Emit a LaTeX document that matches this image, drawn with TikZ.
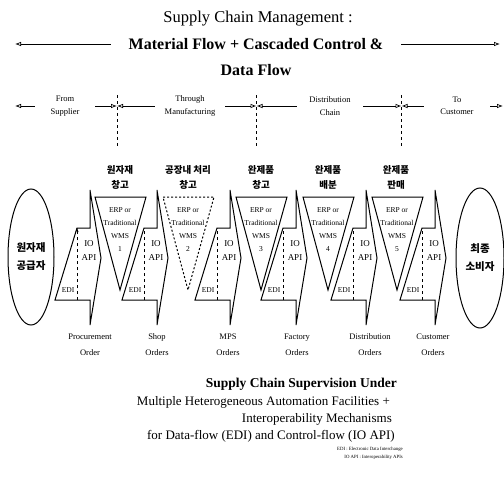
\documentclass[tikz,border=0pt]{standalone}
\usepackage{fontspec}
\setmainfont{Liberation Serif}
\newfontfamily\kr{Noto Sans CJK KR}
\usetikzlibrary{arrows.meta,shapes.geometric}
\tikzset{
  lead/.style={-{Latex[open,length=6pt,width=4.5pt]},line width=.7pt},
  guide/.style={dashed,line width=.6pt},
  shell/.style={line width=1pt,line join=miter},
  edi/.style={dashed,line width=.6pt},
  head/.style={font=\fontsize{16.5}{18}\selectfont,inner sep=0pt},
  headbold/.style={font=\fontsize{16}{18}\bfseries\selectfont,inner ysep=0pt},
  phase/.style={align=center,font=\fontsize{8.5}{12.5}\selectfont,inner sep=0pt},
  io/.style={align=center,font=\fontsize{9}{14}\selectfont,inner sep=0pt},
  tag/.style={font=\fontsize{7.5}{8}\selectfont,inner sep=0pt},
  wmstxt/.style={align=center,font=\fontsize{7.5}{13}\selectfont,inner sep=0pt},
  hangul/.style={align=center,font=\kr\bfseries\fontsize{9.5}{15}\selectfont,inner sep=0pt},
  party/.style={draw,ellipse,line width=1pt,align=center,inner sep=0pt,font=\kr\bfseries\fontsize{10.5}{18}\selectfont},
  order/.style={align=center,font=\fontsize{8.5}{16}\selectfont,inner sep=0pt},
  note/.style={anchor=east,inner sep=0pt,font=\fontsize{13}{15}\selectfont},
  fine/.style={anchor=east,inner sep=0pt,font=\fontsize{4.8}{6}\selectfont},
  chev/.pic={
    \draw[shell] (-13,228) -- (0,228) -- (0,190) -- (11,258) -- (0,325) -- (0,300) -- (-35,300) -- cycle;
    \coordinate (-dtop) at (-13,228);
    \coordinate (-dbot) at (-13,300);
    \draw[edi] (-dbot) -- (-dtop);
    \node[io] (-io) at (-1,251) {IO\\API};
    \node[tag] (-edi) at (-22,290) {EDI};
  },
  wms/.pic={
    \draw[shell,pic actions] (6,197) -- (57,197) -- (31,290) -- cycle;
    \node[wmstxt] (-txt) at (31,230) {ERP or\\Traditional\\WMS\\#1};
  }
}

\begin{document}
\begin{tikzpicture}[x=1pt,y=-1pt]
\useasboundingbox (0,0) rectangle (504,488);

\node[head] (title) at (258,19) {Supply Chain Management :};
\node[headbold,inner xsep=18pt] (mat) at (256,44) {Material Flow + Cascaded Control \&};
\node[headbold] (data) at (256,70) {Data Flow};
\coordinate (gl) at (15,44);
\coordinate (gr) at (500,44);
\draw[lead] (mat.west) -- (gl);
\draw[lead] (mat.east) -- (gr);

\node[phase,minimum width=60] (from) at (65,106) {From\\Supplier};
\node[phase,minimum width=70] (thru) at (190,106) {Through\\Manufacturing};
\node[phase,minimum width=66] (dist) at (330,106) {Distribution\\Chain};
\node[phase,minimum width=66] (to) at (457,106) {To\\Customer};
\coordinate (tl) at (15,106);
\coordinate (m1) at (117,106);
\coordinate (m2) at (256.5,106);
\coordinate (m3) at (401.5,106);
\coordinate (tr) at (503,106);
\draw[lead] (from.west) -- (tl);
\draw[lead] (from.east) -- (m1);
\draw[lead] (thru.west) -- (m1);
\draw[lead] (thru.east) -- (m2);
\draw[lead] (dist.west) -- (m2);
\draw[lead] (dist.east) -- (m3);
\draw[lead] (to.west) -- (m3);
\draw[lead] (to.east) -- (tr);
\draw[guide] (117,95) -- (117,148);
\draw[guide] (256.5,95) -- (256.5,148);
\draw[guide] (401.5,95) -- (401.5,148);

\node[hangul] (k1) at (120,177) {원자재\\창고};
\node[hangul] (k2) at (188,177) {공장내 처리\\창고};
\node[hangul] (k3) at (261,177) {완제품\\창고};
\node[hangul] (k4) at (328,177) {완제품\\배분};
\node[hangul] (k5) at (396,177) {완제품\\판매};

\node[party,minimum width=46,minimum height=136] (src) at (31,257) {원자재\\공급자};
\node[party,minimum width=48,minimum height=140] (dst) at (480,258) {최종\\소비자};

\pic (a1) at (90,0) {chev};
\pic (a2) at (157,0) {chev};
\pic (a3) at (230,0) {chev};
\pic (a4) at (296,0) {chev};
\pic (a5) at (366,0) {chev};
\pic (a6) at (435,0) {chev};
\draw[edi,-{Stealth[length=4pt,width=3pt]}] (a1-dbot) -- (a1-dtop);

\pic (w1) at (89,0) {wms=1};
\pic[dash pattern=on 2pt off 2pt] (w2) at (157,0) {wms=2};
\pic (w3) at (230,0) {wms=3};
\pic (w4) at (297,0) {wms=4};
\pic (w5) at (366,0) {wms=5};

\node[order] (o1) at (90,345) {Procurement\\Order};
\node[order] (o2) at (157,345) {Shop\\Orders};
\node[order] (o3) at (228,345) {MPS\\Orders};
\node[order] (o4) at (297,345) {Factory\\Orders};
\node[order] (o5) at (370,345) {Distribution\\Orders};
\node[order] (o6) at (433,345) {Customer\\Orders};

\node[note,font=\fontsize{13.5}{15}\bfseries\selectfont] (sup) at (397,384) {Supply Chain Supervision Under};
\node[note] (multi) at (390,402) {Multiple Heterogeneous Automation Facilities +};
\node[note] (inter) at (392,419) {Interoperability Mechanisms};
\node[note] (flow) at (395,436) {for Data-flow (EDI) and Control-flow (IO API)};
\node[fine] (ediexp) at (403,449) {EDI : Electronic Data Interchange};
\node[fine] (ioexp) at (403,457) {IO API : Interoperability APIs};
\end{tikzpicture}
\end{document}
